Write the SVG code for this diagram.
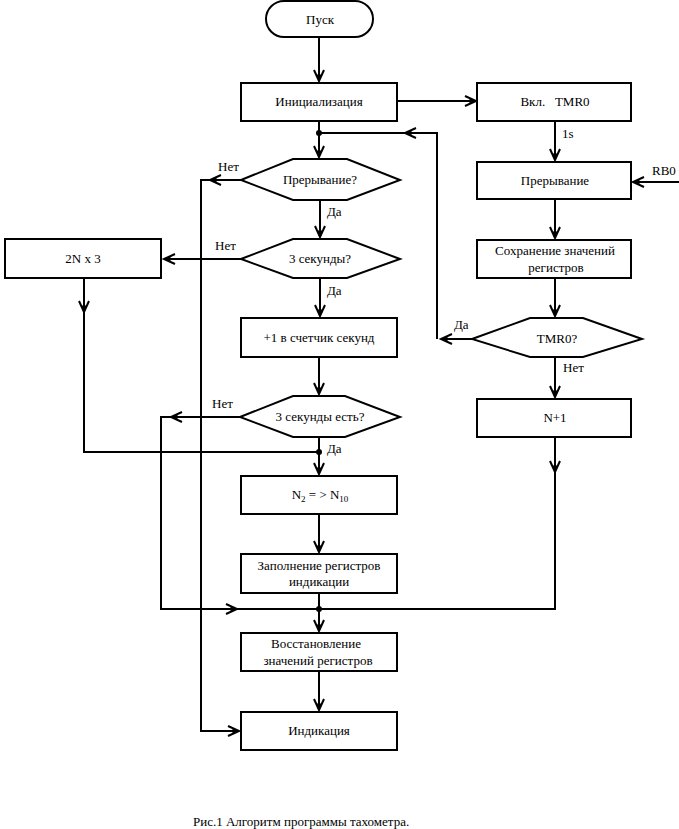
<svg xmlns="http://www.w3.org/2000/svg" width="679" height="829" viewBox="0 0 679 829" font-family="'Liberation Serif', 'DejaVu Serif', serif">
<defs>
<style>
.n{fill:#fff;stroke:#000;stroke-width:2}
.c{fill:none;stroke:#000;stroke-width:2}
text{font-family:'Liberation Serif','Times New Roman','DejaVu Serif',serif;font-size:13px;fill:#000}
.m{text-anchor:middle}
</style>
<marker id="a" markerUnits="userSpaceOnUse" viewBox="-12 -7 14 14" refX="0" refY="0" markerWidth="14" markerHeight="14" orient="auto" overflow="visible">
<path d="M-11,-5 L0,0 L-11,5" fill="none" stroke="#000" stroke-width="2"/>
<path d="M-6,-2 L0,0 L-6,2 Z" fill="#000" stroke="#000" stroke-width="1"/>
</marker>
</defs>
<rect width="679" height="829" fill="#fff"/>
<g id="connectors">
<path class="c" d="M319,37 V81" marker-end="url(#a)"/>
<path class="c" d="M397,101 H476" marker-end="url(#a)"/>
<path class="c" d="M319,121 V157" marker-end="url(#a)"/>
<circle cx="319" cy="133" r="3" fill="#000"/>
<path class="c" d="M437,339 V133 H407"/>
<path class="c" d="M420,133 H405" marker-end="url(#a)"/>
<path class="c" d="M407,133 H319"/>
<path class="c" d="M241,180 H210" marker-end="url(#a)"/>
<path class="c" d="M210,180 H201 V731 H239" marker-end="url(#a)"/>
<path class="c" d="M320,200 V237" marker-end="url(#a)"/>
<path class="c" d="M241,259 H164" marker-end="url(#a)"/>
<path class="c" d="M84,278 V312" marker-end="url(#a)"/>
<path class="c" d="M84,310 V452 H319"/>
<path class="c" d="M320,278 V316" marker-end="url(#a)"/>
<path class="c" d="M319,357 V394" marker-end="url(#a)"/>
<path class="c" d="M240,417 H171" marker-end="url(#a)"/>
<path class="c" d="M173,417 H161 V609 H237" marker-end="url(#a)"/>
<path class="c" d="M235,609 H319"/>
<path class="c" d="M319,437 V474" marker-end="url(#a)"/>
<circle cx="319" cy="452" r="3" fill="#000"/>
<path class="c" d="M319,514 V552" marker-end="url(#a)"/>
<path class="c" d="M319,593 V631" marker-end="url(#a)"/>
<circle cx="319" cy="609" r="3" fill="#000"/>
<path class="c" d="M319,671 V710" marker-end="url(#a)"/>
<path class="c" d="M555,121 V160" marker-end="url(#a)"/>
<path class="c" d="M679,182 H633" marker-end="url(#a)"/>
<path class="c" d="M555,199 V238" marker-end="url(#a)"/>
<path class="c" d="M555,278 V316" marker-end="url(#a)"/>
<path class="c" d="M472,339 H441" marker-end="url(#a)"/>
<path class="c" d="M555,357 V397" marker-end="url(#a)"/>
<path class="c" d="M555,437 V472" marker-end="url(#a)"/>
<path class="c" d="M555,470 V609 H319"/>
<text x="218" y="171">Нет</text>
<text x="327" y="216">Да</text>
<text x="215" y="250">Нет</text>
<text x="327" y="295">Да</text>
<text x="212" y="408">Нет</text>
<text x="327" y="453">Да</text>
<text x="562" y="138">1s</text>
<text x="652" y="175">RB0</text>
<text x="454" y="329">Да</text>
<text x="563" y="372">Нет</text>
</g>
<g id="start"><rect class="n" x="266" y="1" width="107" height="36" rx="18"/><text class="m" x="320" y="24">Пуск</text></g>
<g id="init"><rect class="n" x="241" y="83" width="156" height="38"/><text class="m" x="319" y="106">Инициализация</text></g>
<g id="q-interrupt"><polygon class="n" points="241,180 293,159 347,159 400,180 347,200 293,200"/><text class="m" x="320" y="184">Прерывание?</text></g>
<g id="q-3sec"><polygon class="n" points="241,259 293,239 347,239 400,259 347,278 293,278"/><text class="m" x="320" y="263">3 секунды?</text></g>
<g id="calc"><rect class="n" x="5" y="239" width="156" height="39"/><text class="m" x="83" y="263">2N x 3</text></g>
<g id="inc-sec"><rect class="n" x="241" y="318" width="156" height="39"/><text class="m" x="319" y="342">+1 в счетчик секунд</text></g>
<g id="q-3sec-done"><polygon class="n" points="240,417 293,396 345,396 400,417 345,437 293,437"/><text class="m" x="320" y="421">3 секунды есть?</text></g>
<g id="convert"><rect class="n" x="241" y="476" width="156" height="38"/><text class="m" x="320" y="499">N<tspan font-size="9" dy="3">2</tspan><tspan dy="-3"> = &gt; N</tspan><tspan font-size="9" dy="3">10</tspan></text></g>
<g id="fill-regs"><rect class="n" x="241" y="554" width="156" height="39"/><text class="m" x="319" y="570">Заполнение регистров</text><text class="m" x="319" y="586">индикации</text></g>
<g id="restore"><rect class="n" x="241" y="633" width="156" height="38"/><text class="m" x="316" y="648">Восстановление</text><text class="m" x="318" y="665">значений регистров</text></g>
<g id="display"><rect class="n" x="241" y="712" width="156" height="38"/><text class="m" x="319" y="735">Индикация</text></g>
<g id="tmr-on"><rect class="n" x="477" y="83" width="154" height="38"/><text class="m" x="555" y="106" xml:space="preserve">Вкл.   TMR0</text></g>
<g id="interrupt"><rect class="n" x="477" y="162" width="154" height="37"/><text class="m" x="555" y="185">Прерывание</text></g>
<g id="save"><rect class="n" x="477" y="240" width="154" height="38"/><text class="m" x="555" y="255">Сохранение значений</text><text class="m" x="556" y="272">регистров</text></g>
<g id="q-tmr"><polygon class="n" points="472,339 530,318 583,318 642,339 583,357 530,357"/><text class="m" x="557" y="343">TMR0?</text></g>
<g id="n-inc"><rect class="n" x="477" y="399" width="154" height="38"/><text class="m" x="555" y="422">N+1</text></g>
<text x="193" y="826">Рис.1 Алгоритм программы тахометра.</text>
</svg>
